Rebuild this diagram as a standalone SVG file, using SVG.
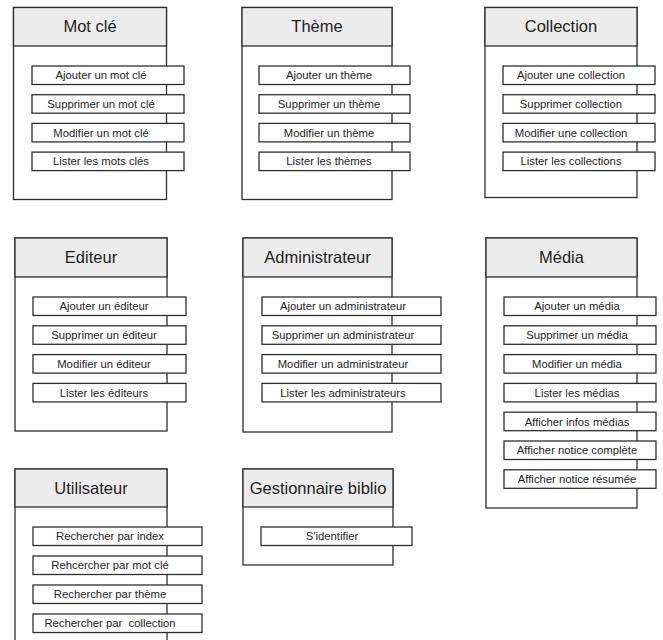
<svg xmlns="http://www.w3.org/2000/svg" width="663" height="640" viewBox="0 0 663 640">
  <style>
    .frame { fill: #ffffff; stroke: #2e2e2e; stroke-width: 1.3; }
    .head { fill: #ececec; stroke: #2e2e2e; stroke-width: 1.3; }
    .op { fill: #ffffff; stroke: #2e2e2e; stroke-width: 1.3; }
    .title { font-family: "Liberation Sans", Arial, sans-serif; font-size: 16.5px; fill: #1e1e1e; text-anchor: middle; }
    .label { font-family: "Liberation Sans", Arial, sans-serif; font-size: 11.3px; fill: #1e1e1e; text-anchor: middle; white-space: pre; }
  </style>
  <rect width="663" height="640" fill="#ffffff"/>

  <!-- Mot clé -->
  <g id="mot-cle">
    <rect class="frame" x="13.5" y="7.5" width="153" height="192"/>
    <rect class="head" x="13.5" y="7.5" width="153" height="38.5"/>
    <text class="title" x="90" y="32">Mot clé</text>
    <rect class="op" x="32" y="66" width="152" height="18.5"/>
    <text class="label" x="101" y="79.3">Ajouter un mot clé</text>
    <rect class="op" x="32" y="94.7" width="152" height="18.5"/>
    <text class="label" x="101" y="108">Supprimer un mot clé</text>
    <rect class="op" x="32" y="123.4" width="152" height="18.5"/>
    <text class="label" x="101" y="136.7">Modifier un mot clé</text>
    <rect class="op" x="32" y="152.1" width="152" height="18.5"/>
    <text class="label" x="101" y="165.4">Lister les mots clés</text>
  </g>

  <!-- Thème -->
  <g id="theme">
    <rect class="frame" x="242" y="7.5" width="150" height="192"/>
    <rect class="head" x="242" y="7.5" width="150" height="38.5"/>
    <text class="title" x="317" y="32">Thème</text>
    <rect class="op" x="259" y="66" width="151" height="18.5"/>
    <text class="label" x="329" y="79.3">Ajouter un thème</text>
    <rect class="op" x="259" y="94.7" width="151" height="18.5"/>
    <text class="label" x="329" y="108">Supprimer un thème</text>
    <rect class="op" x="259" y="123.4" width="151" height="18.5"/>
    <text class="label" x="329" y="136.7">Modifier un thème</text>
    <rect class="op" x="259" y="152.1" width="151" height="18.5"/>
    <text class="label" x="329" y="165.4">Lister les thèmes</text>
  </g>

  <!-- Collection -->
  <g id="collection">
    <rect class="frame" x="485" y="7.5" width="152" height="190"/>
    <rect class="head" x="485" y="7.5" width="152" height="38.5"/>
    <text class="title" x="561" y="32">Collection</text>
    <rect class="op" x="503" y="66" width="152" height="18.5"/>
    <text class="label" x="571" y="79.3">Ajouter une collection</text>
    <rect class="op" x="503" y="94.7" width="152" height="18.5"/>
    <text class="label" x="571" y="108">Supprimer collection</text>
    <rect class="op" x="503" y="123.4" width="152" height="18.5"/>
    <text class="label" x="571" y="136.7">Modifier une collection</text>
    <rect class="op" x="503" y="152.1" width="152" height="18.5"/>
    <text class="label" x="571" y="165.4">Lister les collections</text>
  </g>

  <!-- Editeur -->
  <g id="editeur">
    <rect class="frame" x="15" y="238" width="152" height="193"/>
    <rect class="head" x="15" y="238" width="152" height="39"/>
    <text class="title" x="91" y="263">Editeur</text>
    <rect class="op" x="33" y="297" width="153" height="18.5"/>
    <text class="label" x="104" y="310.3">Ajouter un éditeur</text>
    <rect class="op" x="33" y="325.8" width="153" height="18.5"/>
    <text class="label" x="104" y="339.1">Supprimer un éditeur</text>
    <rect class="op" x="33" y="354.6" width="153" height="18.5"/>
    <text class="label" x="104" y="367.9">Modifier un éditeur</text>
    <rect class="op" x="33" y="383.4" width="153" height="18.5"/>
    <text class="label" x="104" y="396.7">Lister les éditeurs</text>
  </g>

  <!-- Administrateur -->
  <g id="administrateur">
    <rect class="frame" x="243" y="238" width="149" height="194"/>
    <rect class="head" x="243" y="238" width="149" height="39"/>
    <text class="title" x="317.5" y="263">Administrateur</text>
    <rect class="op" x="262" y="297" width="179" height="18.5"/>
    <text class="label" x="343" y="310.3">Ajouter un administrateur</text>
    <rect class="op" x="262" y="325.8" width="179" height="18.5"/>
    <text class="label" x="343" y="339.1">Supprimer un administrateur</text>
    <rect class="op" x="262" y="354.6" width="179" height="18.5"/>
    <text class="label" x="343" y="367.9">Modifier un administrateur</text>
    <rect class="op" x="262" y="383.4" width="179" height="18.5"/>
    <text class="label" x="343" y="396.7">Lister les administrateurs</text>
  </g>

  <!-- Média -->
  <g id="media">
    <rect class="frame" x="486" y="238" width="151" height="270"/>
    <rect class="head" x="486" y="238" width="151" height="39"/>
    <text class="title" x="561.5" y="263">Média</text>
    <rect class="op" x="504" y="297" width="152" height="18.5"/>
    <text class="label" x="577" y="310.3">Ajouter un média</text>
    <rect class="op" x="504" y="325.8" width="152" height="18.5"/>
    <text class="label" x="577" y="339.1">Supprimer un média</text>
    <rect class="op" x="504" y="354.6" width="152" height="18.5"/>
    <text class="label" x="577" y="367.9">Modifier un média</text>
    <rect class="op" x="504" y="383.4" width="152" height="18.5"/>
    <text class="label" x="577" y="396.7">Lister les médias</text>
    <rect class="op" x="504" y="412.2" width="152" height="18.5"/>
    <text class="label" x="577" y="425.5">Afficher infos médias</text>
    <rect class="op" x="504" y="441" width="152" height="18.5"/>
    <text class="label" x="577" y="454.3">Afficher notice complète</text>
    <rect class="op" x="504" y="469.8" width="152" height="18.5"/>
    <text class="label" x="577" y="483.1">Afficher notice résumée</text>
  </g>

  <!-- Utilisateur -->
  <g id="utilisateur">
    <rect class="frame" x="15" y="469" width="152" height="180"/>
    <rect class="head" x="15" y="469" width="152" height="38"/>
    <text class="title" x="91" y="494">Utilisateur</text>
    <rect class="op" x="33" y="527" width="169" height="18.5"/>
    <text class="label" x="110" y="540.3">Rechercher par index</text>
    <rect class="op" x="33" y="556" width="169" height="18.5"/>
    <text class="label" x="110" y="569.3">Rehcercher par mot clé</text>
    <rect class="op" x="33" y="585" width="169" height="18.5"/>
    <text class="label" x="110" y="598.3">Rechercher par thème</text>
    <rect class="op" x="33" y="614" width="169" height="18.5"/>
    <text class="label" x="110" y="627.3">Rechercher par  collection</text>
  </g>

  <!-- Gestionnaire biblio -->
  <g id="gestionnaire-biblio">
    <rect class="frame" x="243" y="469" width="150" height="96"/>
    <rect class="head" x="243" y="469" width="150" height="38"/>
    <text class="title" x="318" y="494">Gestionnaire biblio</text>
    <rect class="op" x="261" y="527" width="151" height="18.5"/>
    <text class="label" x="332" y="540.3">S'identifier</text>
  </g>
</svg>
